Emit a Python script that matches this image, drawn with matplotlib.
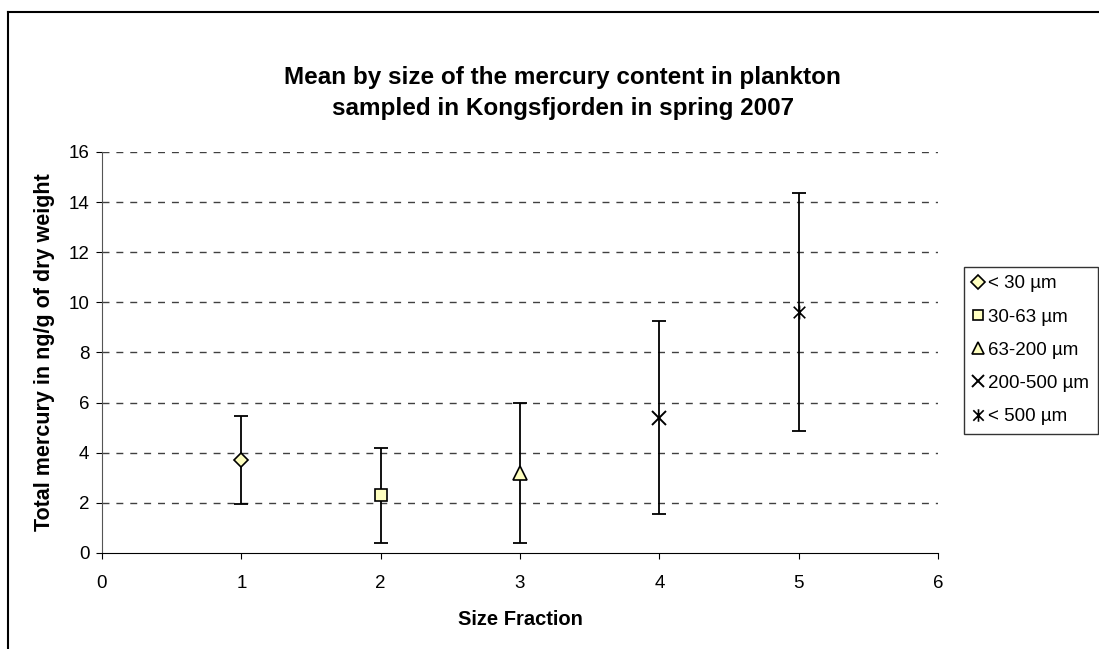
import matplotlib
matplotlib.use('Agg')
import matplotlib.pyplot as plt
from matplotlib.path import Path
from matplotlib.lines import Line2D

plt.rcParams['font.family'] = ['Liberation Sans', 'DejaVu Sans']

# data
fractions = [1, 2, 3, 4, 5]
labels = ['< 30 µm', '30-63 µm', '63-200 µm', '200-500 µm', '< 500 µm']
means = [3.7, 2.3, 3.2, 5.4, 9.6]
errors = [1.75, 1.9, 2.8, 3.85, 4.75]
yticks = [0, 2, 4, 6, 8, 10, 12, 14, 16]
xticks = [0, 1, 2, 3, 4, 5, 6]

# star marker: an x with a vertical bar
star = Path([(-1, -1), (1, 1), (-1, 1), (1, -1), (0, -1.2), (0, 1.2)],
            [Path.MOVETO, Path.LINETO, Path.MOVETO, Path.LINETO, Path.MOVETO, Path.LINETO])

fill = '#FFFFC0'
styles = [
    dict(marker='D', ms=7.5, mfc=fill, mec='black', mew=1.2),
    dict(marker='s', ms=8.5, mfc=fill, mec='black', mew=1.2),
    dict(marker='^', ms=10, mfc=fill, mec='black', mew=1.2),
    dict(marker='x', ms=10, mfc='none', mec='black', mew=1.4),
    dict(marker=star, ms=10, mfc='none', mec='black', mew=1.2),
]

fig = plt.figure(figsize=(10.99, 6.49), dpi=100)
ax = fig.add_axes([0.0928, 0.148, 0.7607, 0.618])

handles = []
for x, m, e, st, lab in zip(fractions, means, errors, styles, labels):
    ax.errorbar([x], [m], yerr=[e], fmt='none', ecolor='black', elinewidth=1.3,
                capsize=5, capthick=1.3, zorder=3)
    ax.plot([x], [m], linestyle='none', zorder=4, **st)
    handles.append(Line2D([], [], linestyle='none', label=lab,
                          **{**st, 'ms': st['ms'] * 0.9}))

ax.set_xlim(0, 6)
ax.set_ylim(0, 16)
ax.set_xticks(xticks)
ax.set_yticks(yticks)
for y in yticks[1:]:
    ax.axhline(y, color='#404040', linestyle=(0, (5, 5)), linewidth=1.0, zorder=1)

for s in ['top', 'right']:
    ax.spines[s].set_visible(False)
ax.spines['left'].set_color('#555555')
ax.spines['bottom'].set_color('black')
ax.tick_params(direction='out', length=4, labelsize=13.5)
ax.tick_params(axis='x', pad=12)
ax.tick_params(axis='y', pad=5)
ax.set_xlabel('Size Fraction', fontsize=14.5, fontweight='bold', labelpad=13)
ax.set_ylabel('Total mercury in ng/g of dry weight', fontsize=15.5, fontweight='bold', labelpad=10)

fig.text(0.512, 0.857, 'Mean by size of the mercury content in plankton\nsampled in Kongsfjorden in spring 2007',
         ha='center', va='center', fontsize=17.5, fontweight='bold', linespacing=1.45)

leg = fig.legend(handles=handles, loc='upper left', bbox_to_anchor=(0.877, 0.589),
                 frameon=True, fancybox=False, edgecolor='black', fontsize=13.5,
                 handlelength=0.6, handletextpad=0.25, labelspacing=0.86,
                 borderpad=0.45, borderaxespad=0)
leg.get_frame().set_linewidth(1.0)

# outer frame of the chart area (left and top only visible)
fig.add_artist(Line2D([0.0073, 0.0073], [0, 0.9815], color='black', lw=1.5, transform=fig.transFigure))
fig.add_artist(Line2D([0.0073, 1.0], [0.9815, 0.9815], color='black', lw=1.5, transform=fig.transFigure))

plt.savefig('out.png', dpi=100)
